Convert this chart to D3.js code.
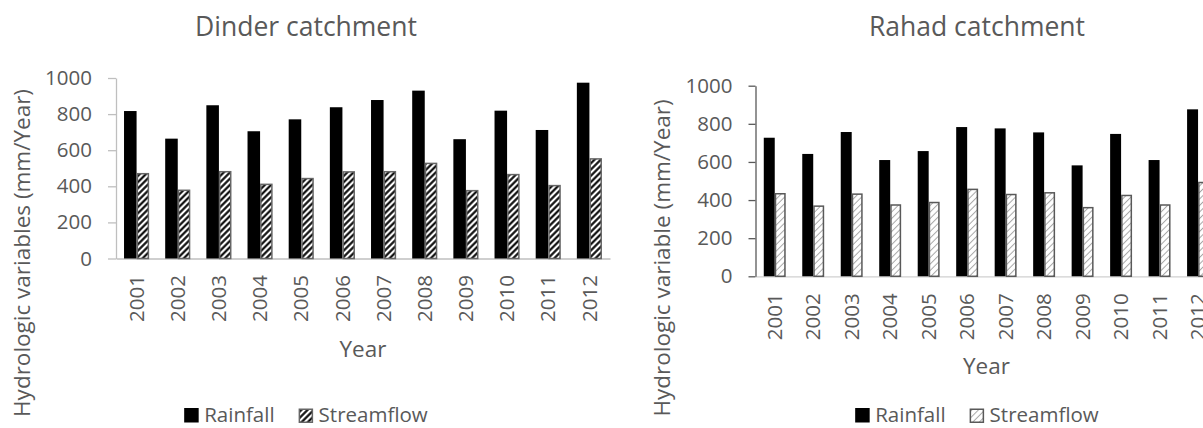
<!DOCTYPE html>
<html>
<head>
<meta charset="utf-8">
<script src="https://cdn.jsdelivr.net/npm/d3@7"></script>
<style>
  html, body { margin: 0; padding: 0; background: #fff; }
  svg { display: block; font-family: "Open Sans", sans-serif; }
</style>
</head>
<body>
<svg id="chart" width="1203" height="428"></svg>
<script>
// ---- Data ----
const years = ['2001','2002','2003','2004','2005','2006','2007','2008','2009','2010','2011','2012'];
const seriesNames = ['Rainfall', 'Streamflow'];
const yTicks = [0, 200, 400, 600, 800, 1000];

const dinderRainfall   = [817, 664, 849, 705, 771, 838, 878, 930, 661, 819, 712, 974];
const dinderStreamflow = [474, 382, 485, 415, 447, 484, 485, 531, 380, 469, 408, 556];
const rahadRainfall    = [727, 642, 757, 610, 657, 783, 776, 755, 582, 747, 610, 876];
const rahadStreamflow  = [437, 372, 435, 378, 391, 460, 433, 442, 364, 428, 378, 496];

const TEXT = '#595959';

const svg = d3.select('#chart');
const defs = svg.append('defs');

// hatch patterns
function hatch(id, period, color, width) {
  const p = defs.append('pattern')
    .attr('id', id)
    .attr('patternUnits', 'userSpaceOnUse')
    .attr('width', period).attr('height', period)
    .attr('patternTransform', 'rotate(45)');
  p.append('rect').attr('width', period).attr('height', period).attr('fill', '#fff');
  p.append('line').attr('x1', period / 2).attr('x2', period / 2)
    .attr('y1', 0).attr('y2', period)
    .attr('stroke', color).attr('stroke-width', width);
}
hatch('hatchDark', 4.4, '#000', 2.1);
hatch('hatchLight', 4.6, '#a6a6a6', 1.0);

function drawChart(cfg) {
  const g = svg.append('g');
  const rows = years.map((y, i) => ({ year: y, values: [cfg.rain[i], cfg.flow[i]] }));

  const x0 = d3.scaleBand().domain(years).range(cfg.xRange)
    .paddingInner(cfg.pad).paddingOuter(cfg.pad / 2);
  const x1 = d3.scaleBand().domain(seriesNames).range([0, x0.bandwidth()]);
  const y = d3.scaleLinear().domain([0, 1000]).range(cfg.yRange);

  // x axis line
  const xAxis = g.append('g')
    .attr('transform', `translate(0,${cfg.yRange[0]})`)
    .call(d3.axisBottom(x0).tickSize(0).tickPadding(0));
  xAxis.select('.domain').attr('stroke', cfg.xAxisColor).attr('stroke-width', 1.3);
  xAxis.selectAll('text')
    .attr('transform', 'rotate(-90)')
    .attr('text-anchor', 'end')
    .attr('x', -cfg.yearOffset)
    .attr('y', 0)
    .attr('dy', '0.35em')
    .attr('fill', TEXT)
    .style('font-size', '20.5px')
    .style('font-family', '"Open Sans", sans-serif');

  // bars
  const grp = g.append('g').selectAll('g').data(rows).join('g')
    .attr('transform', d => `translate(${x0(d.year)},0)`);
  grp.selectAll('rect')
    .data(d => d.values.map((v, i) => ({ key: seriesNames[i], v })))
    .join('rect')
    .attr('x', d => x1(d.key) + (d.key === 'Streamflow' ? 0.75 : 0))
    .attr('width', d => x1.bandwidth() - (d.key === 'Streamflow' ? 1.5 : 0))
    .attr('y', d => y(d.v) + (d.key === 'Streamflow' ? 0.75 : 0))
    .attr('height', d => y(0) - y(d.v) - (d.key === 'Streamflow' ? 0.75 : 0))
    .attr('fill', d => d.key === 'Rainfall' ? '#000' : `url(#${cfg.pattern})`)
    .attr('stroke', d => d.key === 'Rainfall' ? 'none' : cfg.barStroke)
    .attr('stroke-width', 1.5);

  // y axis
  const yAxis = g.append('g')
    .attr('transform', `translate(${cfg.xRange[0]},0)`)
    .call(d3.axisLeft(y).tickValues(yTicks).tickFormat(d3.format('d'))
      .tickSize(cfg.tickLen).tickSizeOuter(0).tickPadding(cfg.tickPad));
  yAxis.select('.domain').attr('stroke', cfg.yAxisColor).attr('stroke-width', 1.3);
  yAxis.selectAll('.tick line').attr('stroke', cfg.yAxisColor).attr('stroke-width', 1.3);
  yAxis.selectAll('.tick text')
    .attr('fill', TEXT)
    .style('font-size', '20.5px')
    .style('font-family', '"Open Sans", sans-serif');

  // title
  g.append('text')
    .attr('x', cfg.centerX).attr('y', 36)
    .attr('text-anchor', 'middle')
    .attr('fill', TEXT)
    .style('font-size', '26.5px')
    .text(cfg.title);

  // x title
  g.append('text')
    .attr('x', (cfg.xRange[0] + cfg.xRange[1]) / 2).attr('y', cfg.yearTitleY)
    .attr('text-anchor', 'middle')
    .attr('fill', TEXT)
    .style('font-size', '22.5px')
    .text('Year');

  // y title
  g.append('text')
    .attr('transform', `translate(${cfg.yTitleX},${cfg.yTitleY}) rotate(-90)`)
    .attr('text-anchor', 'middle')
    .attr('fill', TEXT)
    .style('font-size', '22.5px')
    .text(cfg.yTitle);

  // legend
  const leg = g.append('g');
  let cx = 0;
  seriesNames.forEach((name, i) => {
    const it = leg.append('g').attr('transform', `translate(${cx},0)`);
    it.append('rect')
      .attr('x', i === 0 ? 0 : 0.75).attr('y', i === 0 ? -14 : -12.75)
      .attr('width', i === 0 ? 14.5 : 13).attr('height', i === 0 ? 14.5 : 13)
      .attr('fill', i === 0 ? '#000' : `url(#${cfg.pattern})`)
      .attr('stroke', i === 0 ? 'none' : cfg.barStroke)
      .attr('stroke-width', 1.5);
    const t = it.append('text')
      .attr('x', 20).attr('y', 0)
      .attr('fill', TEXT)
      .style('font-size', '20.5px')
      .text(name);
    cx += 20 + t.node().getComputedTextLength() + 24;
  });
  const lw = leg.node().getBBox().width;
  leg.attr('transform', `translate(${cfg.centerX - lw / 2},422)`);
}

drawChart({
  rain: dinderRainfall, flow: dinderStreamflow,
  title: 'Dinder catchment',
  yTitle: 'Hydrologic variables (mm/Year)',
  xRange: [116, 610], pad: 0.39,
  yRange: [258.5, 78],
  pattern: 'hatchDark', barStroke: '#666',
  xAxisColor: '#bfbfbf', yAxisColor: '#bfbfbf',
  tickLen: 8, tickPad: 16,
  yearOffset: 16.5, yearTitleY: 357,
  yTitleX: 29.5, yTitleY: 253,
  centerX: 306
});

drawChart({
  rain: rahadRainfall, flow: rahadStreamflow,
  title: 'Rahad catchment',
  yTitle: 'Hydrologic variable (mm/Year)',
  xRange: [755.5, 1217.3], pad: 0.43,
  yRange: [276.3, 85.7],
  pattern: 'hatchLight', barStroke: '#595959',
  xAxisColor: '#d0d0d0', yAxisColor: '#595959',
  tickLen: 7, tickPad: 16,
  yearOffset: 17, yearTitleY: 374,
  yTitleX: 670, yTitleY: 258,
  centerX: 977
});
</script>
</body>
</html>
